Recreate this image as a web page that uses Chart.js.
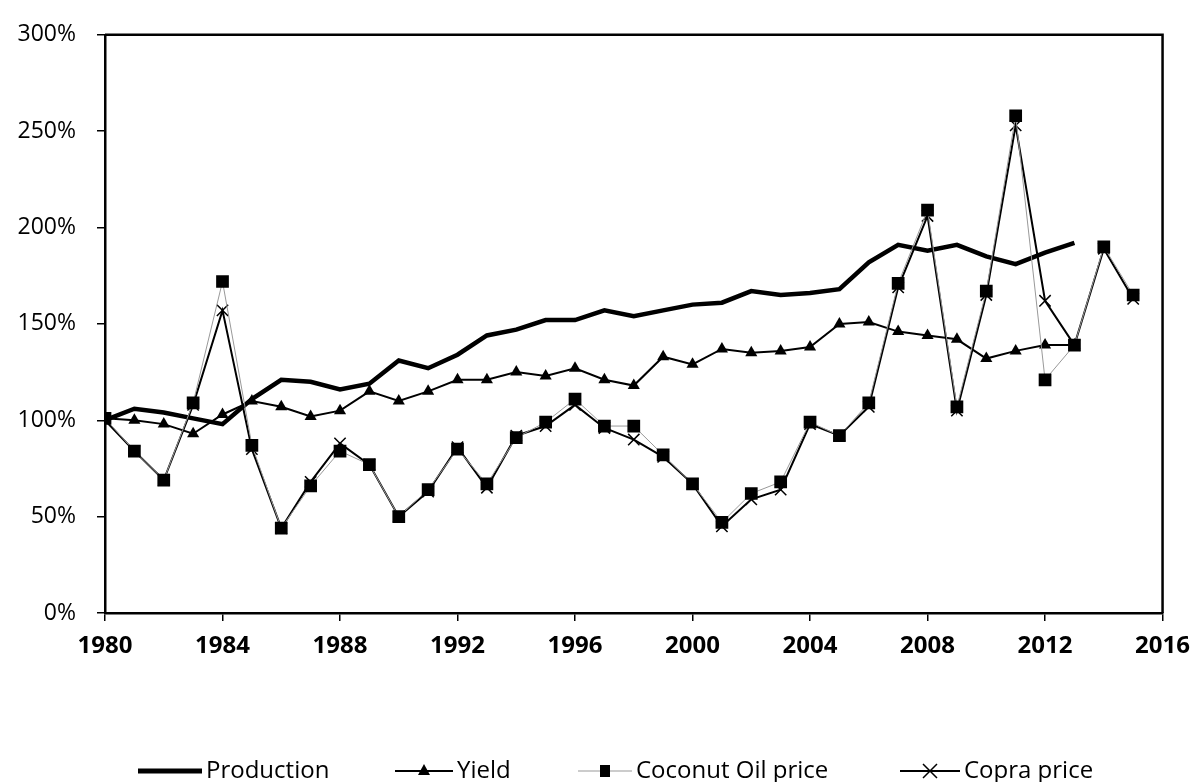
<!DOCTYPE html>
<html>
<head>
<meta charset="utf-8">
<script src="https://cdn.jsdelivr.net/npm/chart.js@4/dist/chart.umd.min.js"></script>
<style>
  html, body { margin: 0; padding: 0; background: #fff; }
  #wrap { width: 1201px; height: 782px; }
</style>
</head>
<body>
<div id="wrap"><canvas id="chart" width="1201" height="782"></canvas></div>
<script>
const years = [1980,1981,1982,1983,1984,1985,1986,1987,1988,1989,
               1990,1991,1992,1993,1994,1995,1996,1997,1998,1999,
               2000,2001,2002,2003,2004,2005,2006,2007,2008,2009,
               2010,2011,2012,2013,2014,2015];

const production = [100,106,104,101,98,111,121,120,116,119,
                    131,127,134,144,147,152,152,157,154,157,
                    160,161,167,165,166,168,182,191,188,191,
                    185,181,187,192,null,null];

const yieldVals = [101,100,98,93,103,110,107,102,105,115,
                   110,115,121,121,125,123,127,121,118,133,
                   129,137,135,136,138,150,151,146,144,142,
                   132,136,139,139,null,null];

const coconutOil = [101,84,69,109,172,87,44,66,84,77,
                    50,64,85,67,91,99,111,97,97,82,
                    67,47,62,68,99,92,109,171,209,107,
                    167,258,121,139,190,165];

const copra = [100,84,69,108,157,85,44,68,88,77,
               50,63,86,65,92,97,108,96,90,81,
               67,45,59,64,98,92,107,169,206,105,
               165,253,162,139,189,163];

const xTicks = [1980,1984,1988,1992,1996,2000,2004,2008,2012,2016];

const pts = arr => years.map((yr, i) => ({ x: yr, y: arr[i] }));

const FONT = '"Open Sans", Lato, sans-serif';

// frame round the plot area + legend underneath
const framePlugin = {
  id: 'frame',
  afterDraw(chart) {
    const { ctx, chartArea: a } = chart;
    ctx.save();
    ctx.strokeStyle = '#000';
    ctx.lineWidth = 2.5;
    ctx.beginPath();
    ctx.moveTo(a.left, a.top);
    ctx.lineTo(a.right, a.top);
    ctx.lineTo(a.right, a.bottom);
    ctx.stroke();

    // legend
    const ly = 771;
    const items = [
      { label: 'Production', x0: 138, x1: 202, lw: 5, color: '#000', marker: null },
      { label: 'Yield', x0: 395, x1: 453, lw: 2, color: '#000', marker: 'triangle' },
      { label: 'Coconut Oil price', x0: 578, x1: 632, lw: 1, color: '#999', marker: 'rect' },
      { label: 'Copra price', x0: 900, x1: 960, lw: 2, color: '#000', marker: 'crossRot' }
    ];
    ctx.font = '24px ' + FONT;
    ctx.textBaseline = 'middle';
    items.forEach(it => {
      ctx.strokeStyle = it.color;
      ctx.lineWidth = it.lw;
      ctx.beginPath();
      ctx.moveTo(it.x0, ly);
      ctx.lineTo(it.x1, ly);
      ctx.stroke();
      if (it.marker) {
        const mx = (it.x0 + it.x1) / 2;
        ctx.fillStyle = '#000';
        ctx.strokeStyle = '#000';
        ctx.lineWidth = 1.5;
        ctx.beginPath();
        if (it.marker === 'crossRot') {
          const r = 7;
          ctx.moveTo(mx - r, ly - r); ctx.lineTo(mx + r, ly + r);
          ctx.moveTo(mx + r, ly - r); ctx.lineTo(mx - r, ly + r);
          ctx.stroke();
        } else if (it.marker === 'triangle') {
          ctx.moveTo(mx, ly - 7); ctx.lineTo(mx + 6, ly + 4); ctx.lineTo(mx - 6, ly + 4);
          ctx.closePath(); ctx.fill();
        } else {
          ctx.fillRect(mx - 5, ly - 6, 10, 12);
        }
      }
      ctx.fillStyle = '#000';
      ctx.fillText(it.label, it.x1 + 4, ly);
    });
    ctx.restore();
  }
};

new Chart(document.getElementById('chart').getContext('2d'), {
  type: 'line',
  data: {
    datasets: [
      {
        label: 'Production',
        data: pts(production),
        borderColor: '#000',
        borderWidth: 4.5,
        pointRadius: 0,
        order: 4
      },
      {
        label: 'Yield',
        data: pts(yieldVals),
        borderColor: '#000',
        backgroundColor: '#000',
        borderWidth: 2,
        pointStyle: 'triangle',
        pointRadius: 7,
        pointBorderWidth: 0,
        order: 3
      },
      {
        label: 'Coconut Oil price',
        data: pts(coconutOil),
        borderColor: '#999',
        backgroundColor: '#000',
        borderWidth: 1,
        pointStyle: 'rect',
        pointRadius: 9,
        pointBorderColor: '#000',
        pointBorderWidth: 0,
        order: 1
      },
      {
        label: 'Copra price',
        data: pts(copra),
        borderColor: '#000',
        backgroundColor: '#000',
        borderWidth: 2,
        pointStyle: 'crossRot',
        pointRadius: 8,
        pointBorderWidth: 1.5,
        order: 2
      }
    ]
  },
  options: {
    responsive: false,
    animation: false,
    spanGaps: false,
    layout: { padding: { left: 0, right: 33, top: 27, bottom: 119 } },
    plugins: {
      legend: { display: false },
      tooltip: { enabled: false }
    },
    scales: {
      x: {
        type: 'linear',
        min: 1980,
        max: 2016,
        afterBuildTicks: s => { s.ticks = xTicks.map(v => ({ value: v })); },
        afterFit: s => { s.height = 50; },
        grid: { display: true, drawOnChartArea: false, drawTicks: true, tickLength: 8, color: '#000', lineWidth: 1.5 },
        border: { display: true, color: '#000', width: 2.5 },
        ticks: {
          color: '#000',
          padding: 11,
          maxRotation: 0,
          font: { family: FONT, size: 24, weight: 'bold' },
          callback: v => String(v)
        }
      },
      y: {
        min: 0,
        max: 300,
        afterFit: s => { s.width = 105; },
        grid: { display: true, drawOnChartArea: false, drawTicks: true, tickLength: 8, color: '#000', lineWidth: 1.5 },
        border: { display: true, color: '#000', width: 2.5 },
        ticks: {
          stepSize: 50,
          color: '#000',
          padding: 21,
          font: { family: FONT, size: 23 },
          callback: v => v + '%'
        }
      }
    }
  },
  plugins: [framePlugin]
});
</script>
</body>
</html>
